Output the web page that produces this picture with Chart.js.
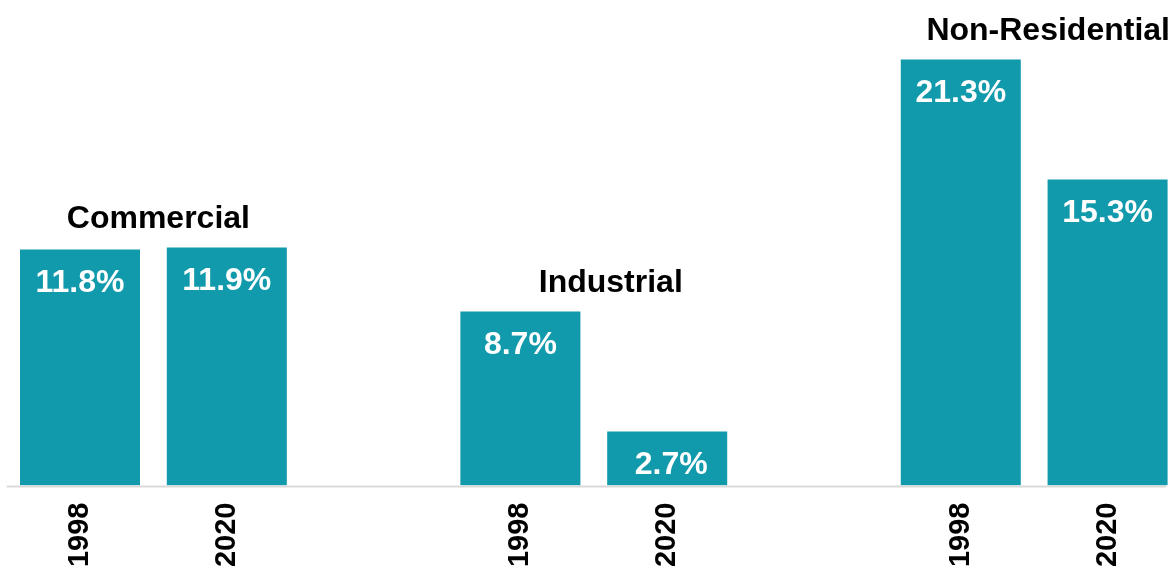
<!DOCTYPE html>
<html>
<head>
<meta charset="utf-8">
<script src="https://cdn.jsdelivr.net/npm/chart.js@4"></script>
<style>
  html, body { margin: 0; padding: 0; background: #ffffff; overflow: hidden; }
  #wrap { position: relative; width: 1171px; height: 569px; }
</style>
</head>
<body>
<div id="wrap"><canvas id="c"></canvas></div>
<script>
// ---- data ----
const yearLabels = ['1998', '2020', '1998', '2020', '1998', '2020'];
const slotPositions = [0, 1, 3, 4, 6, 7];
const values = [11.8, 11.9, 8.7, 2.7, 21.3, 15.3];
const groupLabels = ['Commercial', 'Industrial', 'Non-Residential'];

const FONT = '"Liberation Sans", Arial, Helvetica, sans-serif';
const BAR_COLOR = '#109AAB';

const points = values.map((v, i) => ({ x: slotPositions[i], y: v }));

const labelsPlugin = {
  id: 'labelsPlugin',
  afterDatasetsDraw(chart, args, opts) {
    const ctx = chart.ctx;
    const meta = chart.getDatasetMeta(0);
    const xs = chart.scales.x;
    const ys = chart.scales.y;
    ctx.save();
    // baseline axis line
    const y0 = ys.getPixelForValue(0);
    ctx.strokeStyle = '#d9d9d9';
    ctx.lineWidth = 2;
    ctx.beginPath();
    ctx.moveTo(xs.getPixelForValue(-0.5), y0 + 1);
    ctx.lineTo(xs.getPixelForValue(7.4), y0 + 1);
    ctx.stroke();
    // value labels
    ctx.fillStyle = '#ffffff';
    ctx.font = 'bold 32px ' + FONT;
    ctx.textAlign = 'center';
    ctx.textBaseline = 'alphabetic';
    meta.data.forEach((bar, i) => {
      ctx.fillText(values[i].toFixed(1) + '%', bar.x + (opts.valueDx[i] || 0), bar.y + 42);
    });
    // group labels
    ctx.fillStyle = '#000000';
    ctx.font = 'bold 32px ' + FONT;
    groupLabels.forEach((g, k) => {
      const a = meta.data[2 * k], b = meta.data[2 * k + 1];
      const cx = (a.x + b.x) / 2 + opts.groupDx[k];
      const top = Math.min(a.y, b.y);
      ctx.fillText(g, cx, top - 20);
    });
    ctx.restore();
  }
};

new Chart(document.getElementById('c'), {
  type: 'bar',
  data: {
    datasets: [{
      data: points,
      backgroundColor: BAR_COLOR,
      borderWidth: 0,
      barPercentage: 0.8175,
      categoryPercentage: 1.0
    }]
  },
  options: {
    responsive: true,
    maintainAspectRatio: false,
    animation: false,
    layout: { padding: { left: 0, right: 0, top: 5.5, bottom: 0 } },
    plugins: {
      legend: { display: false },
      tooltip: { enabled: false },
      labelsPlugin: { groupDx: [5, 17, 14], valueDx: [0, 0, 0, 4, 0, 0] }
    },
    scales: {
      x: {
        type: 'linear',
        offset: false,
        grace: 0,
        min: -0.545,
        max: 7.432,
        afterBuildTicks(scale) {
          scale.ticks = slotPositions.map(v => ({ value: v }));
        },
        afterFit(scale) { scale.height = 83.5; },
        grid: { display: false, drawTicks: false, offset: false },
        border: { display: false },
        ticks: {
          autoSkip: false,
          minRotation: 90,
          maxRotation: 90,
          padding: 17,
          color: '#000000',
          font: { family: FONT, size: 29, weight: 'bold' },
          callback(value) {
            const idx = slotPositions.indexOf(value);
            return idx >= 0 ? yearLabels[idx] : '';
          }
        }
      },
      y: {
        display: false,
        min: 0,
        max: 24
      }
    }
  },
  plugins: [labelsPlugin]
});
</script>
</body>
</html>
